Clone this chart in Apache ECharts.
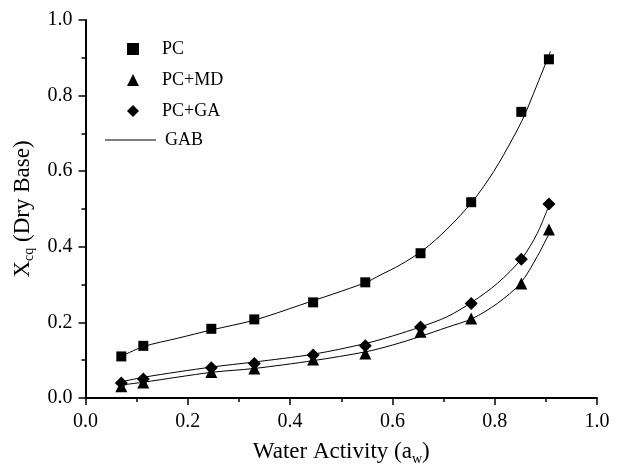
<!DOCTYPE html>
<html>
<head>
<meta charset="utf-8">
<script src="https://cdn.jsdelivr.net/npm/echarts@6/dist/echarts.min.js"></script>
<style>
  html, body { margin: 0; padding: 0; background: #fff; }
  #chart { width: 622px; height: 465px; }
</style>
</head>
<body>
<div id="chart"></div>
<script>
// measured points
const waterActivity = [0.070, 0.113, 0.246, 0.330, 0.445, 0.547, 0.655, 0.754, 0.852, 0.906];
const pcValues = [0.110, 0.138, 0.183, 0.208, 0.253, 0.306, 0.383, 0.518, 0.757, 0.896];
const pcMdValues = [0.031, 0.041, 0.069, 0.078, 0.102, 0.118, 0.175, 0.210, 0.303, 0.446];
const pcGaValues = [0.040, 0.050, 0.080, 0.091, 0.114, 0.138, 0.188, 0.250, 0.367, 0.513];

// GAB fitted curves as [aw, X]
const pcGab = [[0.070, 0.110], [0.113, 0.136], [0.180, 0.158], [0.246, 0.180], [0.330, 0.206],
  [0.420, 0.246], [0.547, 0.305], [0.576, 0.325], [0.615, 0.352], [0.661, 0.392],
  [0.707, 0.447], [0.756, 0.519], [0.798, 0.599], [0.837, 0.691], [0.857, 0.744],
  [0.876, 0.806], [0.896, 0.873], [0.909, 0.917]];
const pcMdGab = [[0.068, 0.034], [0.114, 0.042], [0.247, 0.068], [0.329, 0.078], [0.446, 0.099],
  [0.547, 0.122], [0.600, 0.140], [0.655, 0.163], [0.707, 0.187], [0.756, 0.210],
  [0.805, 0.250], [0.850, 0.303], [0.883, 0.374], [0.909, 0.442]];
const pcGaGab = [[0.068, 0.042], [0.114, 0.055], [0.247, 0.082], [0.329, 0.095], [0.446, 0.116],
  [0.547, 0.144], [0.600, 0.164], [0.655, 0.188], [0.707, 0.215], [0.756, 0.254],
  [0.805, 0.303], [0.853, 0.369], [0.883, 0.435], [0.905, 0.506]];

const font = '"Liberation Serif", "Times New Roman", serif';

function pairs(xs, ys) {
  return xs.map((x, i) => [x, ys[i]]);
}

const subRich = {
  s: { fontFamily: font, fontSize: 14, lineHeight: 28, verticalAlign: 'bottom', color: '#000' }
};

const axisCommon = {
  type: 'value',
  min: 0,
  max: 1,
  interval: 0.2,
  axisLine: { show: true, lineStyle: { color: '#000', width: 2 } },
  axisTick: { show: true, inside: false, length: 7, lineStyle: { color: '#000', width: 1.5 } },
  minorTick: { show: true, splitNumber: 2, length: 4, lineStyle: { color: '#000', width: 1.5 } },
  splitLine: { show: false },
  axisLabel: {
    color: '#000',
    fontFamily: font,
    fontSize: 20,
    formatter: v => v.toFixed(1)
  },
  nameLocation: 'middle',
  nameTextStyle: { color: '#000', fontFamily: font, fontSize: 23, lineHeight: 28, rich: subRich }
};

function gabLine(data) {
  return {
    name: 'GAB',
    type: 'line',
    data: data,
    smooth: 0.3,
    symbol: 'none',
    lineStyle: { color: '#000', width: 1 },
    itemStyle: { color: '#000' },
    z: 1
  };
}

const markStyle = { color: '#000', opacity: 1 };

const chart = echarts.init(document.getElementById('chart'), null, { renderer: 'canvas' });

chart.setOption({
  animation: false,
  backgroundColor: '#fff',
  grid: { left: 85.5, right: 25, top: 20, bottom: 67, containLabel: false, outerBoundsMode: 'none' },
  legend: [
    {
      data: ['PC', 'PC+MD', 'PC+GA'],
      orient: 'vertical',
      left: 127,
      top: 40,
      padding: 0,
      itemWidth: 12,
      itemHeight: 12,
      itemGap: 13,
      itemStyle: { opacity: 1 },
      textStyle: { color: '#000', fontFamily: font, fontSize: 18, padding: [0, 0, 0, 18] }
    },
    {
      data: [{ name: 'GAB', icon: 'rect' }],
      orient: 'vertical',
      left: 105,
      top: 131,
      padding: 0,
      itemWidth: 51,
      itemHeight: 1,
      textStyle: { color: '#000', fontFamily: font, fontSize: 18, padding: [0, 0, 0, 4] }
    }
  ],
  xAxis: Object.assign({}, axisCommon, {
    name: 'Water Activity (a{s|w})',
    nameGap: 40,
    axisLabel: Object.assign({}, axisCommon.axisLabel, { margin: 14 })
  }),
  yAxis: Object.assign({}, axisCommon, {
    name: 'X{s|cq} (Dry Base)',
    nameGap: 48,
    axisLabel: Object.assign({}, axisCommon.axisLabel, { margin: 13 })
  }),
  series: [
    {
      name: 'PC', type: 'scatter', data: pairs(waterActivity, pcValues),
      symbol: 'rect', symbolSize: 10, itemStyle: markStyle, z: 3
    },
    {
      name: 'PC+MD', type: 'scatter', data: pairs(waterActivity, pcMdValues),
      symbol: 'triangle', symbolSize: 12, itemStyle: markStyle, z: 3
    },
    {
      name: 'PC+GA', type: 'scatter', data: pairs(waterActivity, pcGaValues),
      symbol: 'diamond', symbolSize: 13, itemStyle: markStyle, z: 3
    },
    gabLine(pcGab),
    gabLine(pcMdGab),
    gabLine(pcGaGab)
  ]
});

window.addEventListener('resize', () => chart.resize());
</script>
</body>
</html>
